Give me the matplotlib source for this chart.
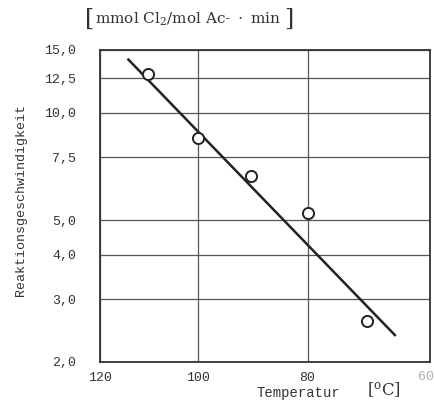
import matplotlib
matplotlib.use("Agg")
import matplotlib.pyplot as plt
import numpy as np

# messwerte
temp_c = [110, 100, 90, 80, 70]
rate = [12.85, 8.5, 6.65, 5.24, 2.61]

# ausgleichsgerade (endpunkte)
line_temp = [114, 65.5]
line_rate = [14.1, 2.38]

x_ticks = [120, 100, 80]
x_ticklabels = ["120", "100", "80"]
y_ticks = [2.0, 3.0, 4.0, 5.0, 7.5, 10.0, 12.5, 15.0]
y_ticklabels = ["2,0", "3,0", "4,0", "5,0", "7,5", "10,0", "12,5", "15,0"]


def inv_t(t):
    # 1000/T, T in Kelvin
    return 1000.0 / (np.asarray(t, dtype=float) + 273.15)


plt.rcParams["font.family"] = "Liberation Mono"
plt.rcParams["mathtext.fontset"] = "dejavuserif"

fig = plt.figure(figsize=(4.35, 4.03), dpi=100)
ax = fig.add_axes([100 / 435, 41 / 403, 330 / 435, 312 / 403])

ax.plot(inv_t(line_temp), line_rate, color="#222222", lw=1.8)
ax.plot(inv_t(temp_c), rate, "o", mfc="white", mec="#222222", ms=8, mew=1.4)

ax.set_yscale("log")
ax.set_ylim(2.0, 15.0)
ax.set_xlim(inv_t(120), inv_t(60))

ax.set_yticks(y_ticks)
ax.set_yticklabels(y_ticklabels)
ax.yaxis.set_minor_locator(matplotlib.ticker.NullLocator())
ax.set_xticks(inv_t(x_ticks))
ax.set_xticklabels(x_ticklabels)
ax.get_xticklabels()[0].set_color("#b0b0b0")

ax.tick_params(axis="y", length=0, pad=17, labelsize=9.5, colors="#333333")
ax.tick_params(axis="x", length=0, pad=7, labelsize=9.5, colors="#333333")
ax.grid(True, color="#555555", lw=0.9)
for s in ax.spines.values():
    s.set_linewidth(1.3)
    s.set_color("#333333")

# rechte achsenbeschriftung "60" liegt am bildrand
fig.text(434 / 435, 1 - 377 / 403, "60", fontsize=9.5, color="#b0b0b0",
         ha="right", va="center")

fig.text(21 / 435, 1 - 200 / 403, "Reaktionsgeschwindigkeit", fontsize=9.6,
         rotation=90, color="#333333", ha="center", va="center")

# einheit oben
fig.text(85 / 435, 1 - 19 / 403, "[", fontsize=17, color="#333333",
         ha="left", va="center", family="DejaVu Serif", fontweight="light")
fig.text(95 / 435, 1 - 19 / 403,
         r"$\mathrm{mmol\ Cl_2/mol\ Ac\text{-}\ \cdot\ min}$",
         fontsize=11, color="#333333", ha="left", va="center")
fig.text(284 / 435, 1 - 19 / 403, "]", fontsize=17, color="#333333",
         ha="left", va="center", family="DejaVu Serif", fontweight="light")

fig.text(298 / 435, 1 - 393 / 403, "Temperatur", fontsize=10,
         color="#333333", ha="center", va="center")
fig.text(384 / 435, 1 - 390 / 403, r"$[^{\mathrm{o}}\mathrm{C}]$", fontsize=12,
         color="#333333", ha="center", va="center")

fig.savefig("out.png", dpi=100)
